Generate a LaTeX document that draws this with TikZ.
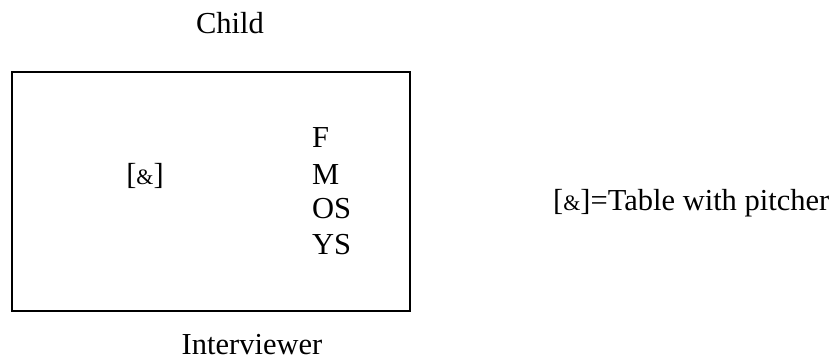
\documentclass[tikz,border=0pt]{standalone}
\usepackage{fontspec}
\setmainfont{Liberation Serif}
\usetikzlibrary{positioning}
\newcommand{\pitcheramp}{{\fontsize{22}{22}\selectfont\&}}

\begin{document}
\begin{tikzpicture}[x=1pt, y=-1pt,
  room/.style={draw, line width=1.5pt, minimum width=398pt, minimum height=239pt, inner sep=0pt},
  txt/.style={font=\fontsize{30.5}{36}\selectfont, inner sep=0pt, anchor=base},
  member/.style={txt, anchor=base west}
]
  \useasboundingbox (0,0) rectangle (839,359);
  \node[room] (room) at (211,191.5) {};
  \node[txt] (child) at (230,33) {Child};
  \node[txt] (interviewer) at (252,354) {Interviewer};
  \node[txt] (table) at (145,184) {[\pitcheramp]};
  \node[member] (father) at (312,147) {F};
  \node[member] (mother) at (312,184) {M};
  \node[member] (older) at (312,218) {OS};
  \node[member] (younger) at (312,254) {YS};
  \node[member] (legend) at (553,210) {[\pitcheramp]=Table with pitcher};
\end{tikzpicture}
\end{document}
